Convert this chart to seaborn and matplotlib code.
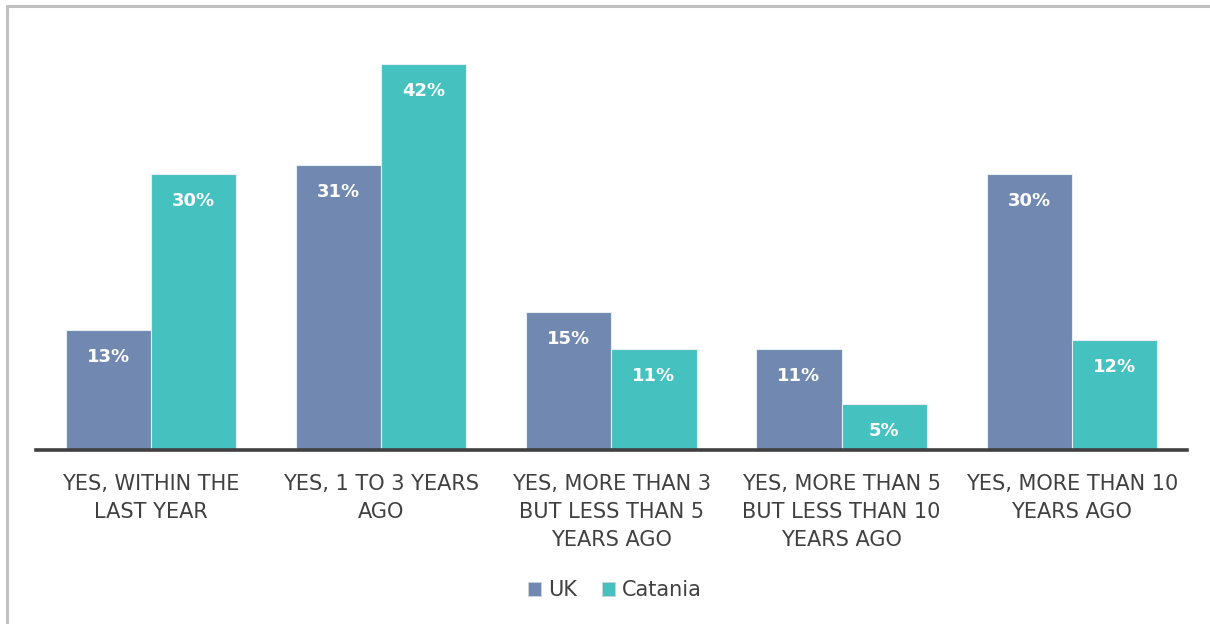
import pandas as pd
import matplotlib.pyplot as plt
import seaborn as sns
from matplotlib.lines import Line2D

# data
categories = [
    "YES, WITHIN THE\nLAST YEAR",
    "YES, 1 TO 3 YEARS\nAGO",
    "YES, MORE THAN 3\nBUT LESS THAN 5\nYEARS AGO",
    "YES, MORE THAN 5\nBUT LESS THAN 10\nYEARS AGO",
    "YES, MORE THAN 10\nYEARS AGO",
]
uk = [13, 31, 15, 11, 30]
catania = [30, 42, 11, 5, 12]
series = ["UK", "Catania"]

sns.set_style("white")
plt.rcParams['font.family'] = ['DejaVu Sans']

df = pd.DataFrame({
    "Category": categories * 2,
    "Region": ["UK"] * len(uk) + ["Catania"] * len(catania),
    "Value": uk + catania,
})

palette = {"UK": "#7189B0", "Catania": "#45C1C0"}

fig = plt.figure(figsize=(12.1, 6.24), dpi=100)
ax = fig.add_axes([0.0298, 0.279, 0.951, 0.663])

sns.barplot(data=df, x="Category", y="Value", hue="Region", hue_order=series,
            palette=palette, width=0.74, gap=0, edgecolor="#e6eef2",
            linewidth=0.8, saturation=1, ax=ax, legend=False)

ax.set_ylim(0, 45)
ax.set_xlim(-0.5, len(categories) - 0.5)
ax.set_xlabel("")
ax.set_ylabel("")
ax.set_yticks([])
for s in ["top", "right", "left"]:
    ax.spines[s].set_visible(False)
ax.spines["bottom"].set_color("#404040")
ax.spines["bottom"].set_linewidth(2.6)
ax.tick_params(axis="x", length=0, pad=17, labelsize=15, labelcolor="#404040")
for lbl in ax.get_xticklabels():
    lbl.set_linespacing(1.5)

# value labels inside the bars
for cont in ax.containers:
    ax.bar_label(cont, labels=[f"{v:.0f}%" for v in cont.datavalues],
                 padding=-26, color="white", fontsize=13, fontweight="bold")

# legend
handles = [plt.Rectangle((0, 0), 1, 1, facecolor=palette[s], edgecolor="#c8d4dc", linewidth=0.6)
           for s in series]
fig.legend(handles, series, loc="center", bbox_to_anchor=(0.508, 0.054), ncol=2,
           frameon=False, fontsize=15, labelcolor="#404040",
           handlelength=0.65, handleheight=0.65, handletextpad=0.3, columnspacing=1.2)

# outer border (left and top only)
fig.add_artist(Line2D([0.0058, 0.0058], [0, 0.991], color="#c0c0c0", linewidth=2.2))
fig.add_artist(Line2D([0.0058, 1], [0.991, 0.991], color="#c0c0c0", linewidth=2.2))

plt.savefig("out.png", dpi=100)
plt.close()
